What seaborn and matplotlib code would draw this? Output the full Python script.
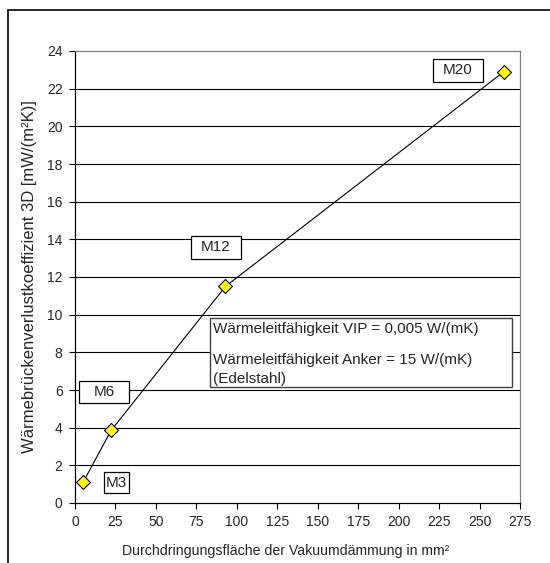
import matplotlib
matplotlib.use("Agg")
import matplotlib.pyplot as plt
import seaborn as sns
import pandas as pd
from matplotlib.lines import Line2D
from matplotlib.patches import Rectangle

sns.set_theme(style="white")
plt.rcParams['font.family'] = ['Liberation Sans', 'DejaVu Sans']

# data
labels = ["M3", "M6", "M12", "M20"]
area = [5.0, 22.3, 93.0, 265.0]
coef = [1.1, 3.85, 11.5, 22.9]
xticks = list(range(0, 276, 25))
yticks = list(range(0, 25, 2))
info_lines = ["Wärmeleitfähigkeit VIP = 0,005 W/(mK)",
              "Wärmeleitfähigkeit Anker = 15 W/(mK)",
              "(Edelstahl)"]

# annotation layout (data units)
box_cx = [25.8, 18.1, 87.1, 236.7]
box_cy = [1.07, 5.89, 13.57, 22.97]
box_w = [15.5, 30.9, 30.9, 30.9]
box_h = [1.12, 1.17, 1.22, 1.22]
info_box = (83.4, 6.16, 186.6, 3.66)
info_x = 85.3
info_y = [9.24, 7.59, 6.58]

df = pd.DataFrame({"x": area, "y": coef})

fig = plt.figure(figsize=(5.5, 5.63), dpi=100)
ax = fig.add_axes([75/550, 1-503/563, 445/550, 452/563])

ax.set_xlim(0, 275)
ax.set_ylim(0, 24)
for v in yticks[1:-1]:
    ax.axhline(v, color="black", lw=0.8, zorder=1)

sns.lineplot(data=df, x="x", y="y", ax=ax, color="black", lw=0.8,
             marker="D", markersize=7.5, markerfacecolor="#FFFF00",
             markeredgecolor="black", markeredgewidth=0.8, zorder=3)

for lab, cx, cy, w, h in zip(labels, box_cx, box_cy, box_w, box_h):
    ax.add_patch(Rectangle((cx - w/2, cy - h/2), w, h, fc="white", ec="black",
                           lw=0.9, zorder=4))
    ax.text(cx, cy, lab, ha="center", va="center", fontsize=11, zorder=5)

bx, by, bw, bh = info_box
ax.add_patch(Rectangle((bx, by), bw, bh, fc="white", ec="#404040", lw=1.0, zorder=4))
for line, ly in zip(info_lines, info_y):
    ax.text(info_x, ly, line, ha="left", va="center", fontsize=11, zorder=5)

ax.set_xticks(xticks)
ax.set_yticks(yticks)
ax.tick_params(axis="both", which="major", labelsize=10, length=4, width=0.8,
               direction="out", color="black", bottom=True, left=True, pad=5)
for s in ["left", "bottom"]:
    ax.spines[s].set_color("black")
    ax.spines[s].set_linewidth(0.9)
for s in ["top", "right"]:
    ax.spines[s].set_color("#808080")
    ax.spines[s].set_linewidth(0.9)

ax.set_xlabel("Durchdringungsfläche der Vakuumdämmung in mm²", fontsize=10.2)
ax.xaxis.set_label_coords(0.474, -0.09)
ax.set_ylabel("Wärmebrückenverlustkoeffizient 3D [mW/(m²K)]", fontsize=12)
ax.yaxis.set_label_coords(-0.085, 0.5)

# outer frame
fig.add_artist(Line2D([8/550, 8/550], [1-10/563, -0.1], transform=fig.transFigure,
                      color="black", lw=1.2))
fig.add_artist(Line2D([8/550, 1.1], [1-10/563, 1-10/563], transform=fig.transFigure,
                      color="black", lw=1.2))

fig.savefig("out.png", dpi=100)
